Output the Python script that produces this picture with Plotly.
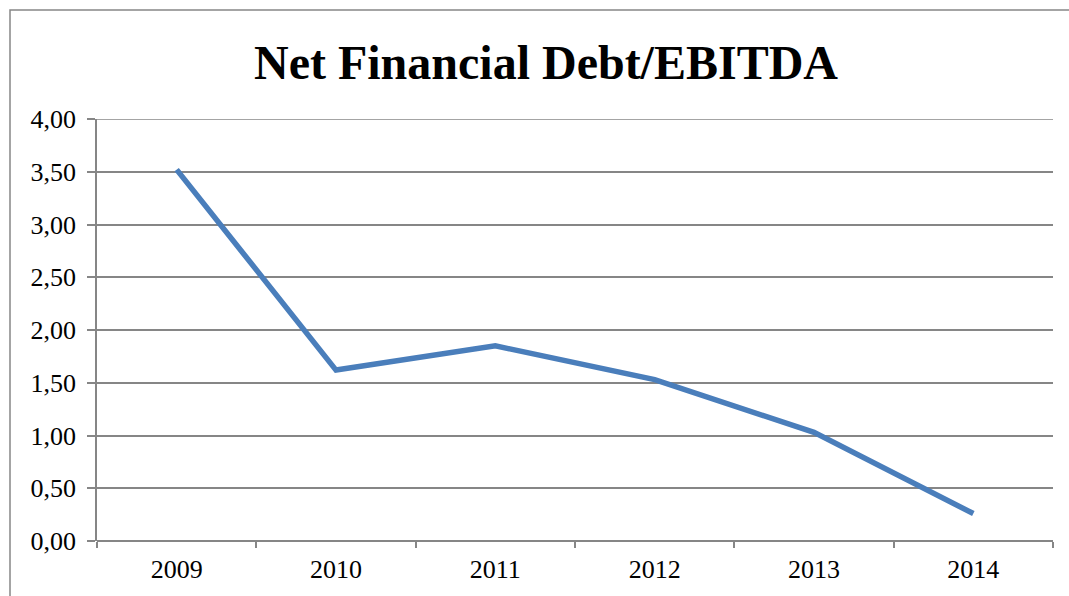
import plotly.graph_objects as go

years = ["2009", "2010", "2011", "2012", "2013", "2014"]
ratio = [3.52, 1.62, 1.85, 1.53, 1.03, 0.26]
y_ticks = [0, 0.5, 1, 1.5, 2, 2.5, 3, 3.5, 4]

W, H = 1069, 596
L, R, T, B = 97, 16, 119, 55
pw, ph = W - L - R, H - T - B

fig = go.Figure(go.Scatter(
    x=years, y=ratio, mode="lines",
    line=dict(color="#4A7EBB", width=5.5),
    showlegend=False, hoverinfo="skip"))

grid = "#868686"
fig.update_layout(
    width=W, height=H,
    margin=dict(l=L, r=R, t=T, b=B, autoexpand=False),
    paper_bgcolor="white", plot_bgcolor="white",
    separators=", ",
    font=dict(family="Liberation Serif, Times New Roman, serif", color="black", size=26),
    title=dict(text="<b>Net Financial Debt/EBITDA</b>", x=546 / W, xanchor="center",
               y=1 - 62 / H, yanchor="middle",
               font=dict(size=48, family="Liberation Serif, Times New Roman, serif")),
    xaxis=dict(type="category", range=[-0.5, len(years) - 0.5], tickson="boundaries",
               ticks="outside", ticklen=6, tickcolor=grid, tickwidth=1.5,
               showgrid=False, showline=False, automargin=False,
               ticklabelstandoff=10,
               tickfont=dict(size=26), fixedrange=True),
    yaxis=dict(range=[y_ticks[0], y_ticks[-1]], tickvals=y_ticks,
               tickformat=".2f", showgrid=True, automargin=False,
               gridcolor=grid, gridwidth=1.5, showline=True, linecolor=grid,
               linewidth=1.5, ticks="outside", ticklen=8, tickcolor=grid,
               tickwidth=1.5, zeroline=True, zerolinecolor=grid, zerolinewidth=1.5,
               ticklabelstandoff=6,
               tickfont=dict(size=26), fixedrange=True),
    shapes=[dict(type="rect", xref="paper", yref="paper",
                 x0=(10 - L) / pw, x1=(W + 20 - L) / pw,
                 y0=-(H + 20 - T - ph) / ph, y1=(T + ph - 10) / ph,
                 line=dict(color=grid, width=1.5), fillcolor="rgba(0,0,0,0)",
                 layer="below"),
            dict(type="line", xref="paper", yref="y", x0=0, x1=1,
                 y0=y_ticks[-1], y1=y_ticks[-1],
                 line=dict(color=grid, width=1.5), layer="below")],
)

fig.write_html("out.html")
